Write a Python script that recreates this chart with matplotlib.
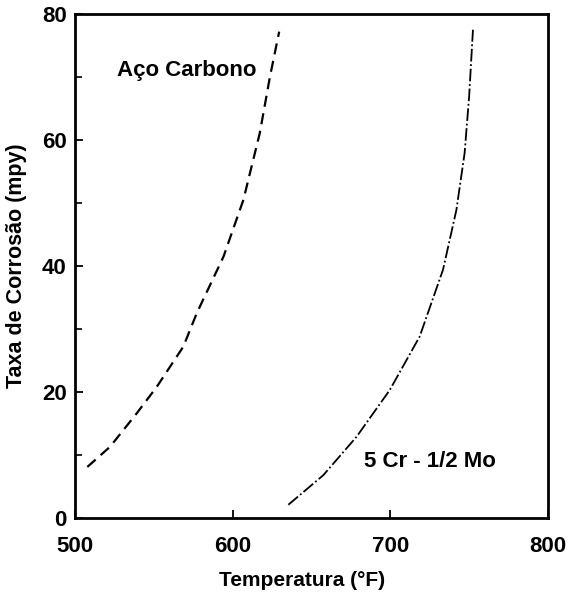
import matplotlib.pyplot as plt
from matplotlib.ticker import MultipleLocator

plt.rcParams['font.family'] = ['Liberation Sans', 'DejaVu Sans']
plt.rcParams['font.weight'] = 'bold'

# Aço Carbono (leitura do gráfico)
temp_carbono = [507.8, 522.2, 539.1, 551.8, 568.7, 577.2, 594.2, 606.8, 617.2, 623.6, 629.5]
taxa_carbono = [8.1, 11.3, 16.6, 20.8, 27.2, 32.5, 41.5, 50.5, 61.1, 70.0, 77.2]

# 5 Cr - 1/2 Mo
temp_cr = [635.3, 657.5, 678.6, 699.6, 718.6, 733.4, 741.9, 747.1, 750.0, 752.4]
taxa_cr = [2.1, 6.8, 12.9, 20.3, 28.8, 39.4, 48.9, 57.9, 67.0, 77.5]

x_ticks = [500, 600, 700, 800]
y_ticks = [0, 20, 40, 60, 80]

fig = plt.figure(figsize=(5.67, 5.96), dpi=100)
ax = fig.add_axes([0.1323, 0.1309, 0.8342, 0.8456])

ax.plot(temp_carbono, taxa_carbono, color='black', lw=1.6, linestyle=(0, (5, 3)))
ax.plot(temp_cr, taxa_cr, color='black', lw=1.3, linestyle=(0, (7, 1.5, 1, 1.5)))

ax.text(571, 71, 'Aço Carbono', fontsize=16, fontweight='bold', ha='center', va='center')
ax.text(725, 8.9, '5 Cr - 1/2 Mo', fontsize=16, fontweight='bold', ha='center', va='center')

ax.set_xlim(500, 800)
ax.set_ylim(0, 80)
ax.set_xticks(x_ticks)
ax.set_yticks(y_ticks)
ax.yaxis.set_minor_locator(MultipleLocator(10))
ax.tick_params(axis='both', which='major', direction='in', length=6, width=1.3, labelsize=16)
ax.tick_params(axis='x', which='major', pad=13)
ax.tick_params(axis='y', which='major', pad=6)
ax.tick_params(axis='y', which='minor', direction='in', length=5, width=1.2)
for lbl in ax.get_xticklabels() + ax.get_yticklabels():
    lbl.set_fontweight('bold')

for s in ax.spines.values():
    s.set_linewidth(2)

ax.set_xlabel('Temperatura (°F)', fontsize=15, fontweight='bold')
ax.set_ylabel('Taxa de Corrosão (mpy)', fontsize=15.5, fontweight='bold')
ax.xaxis.set_label_coords(0.48, -0.105)
ax.yaxis.set_label_coords(-0.102, 0.5)

fig.savefig('out.png', dpi=100)
